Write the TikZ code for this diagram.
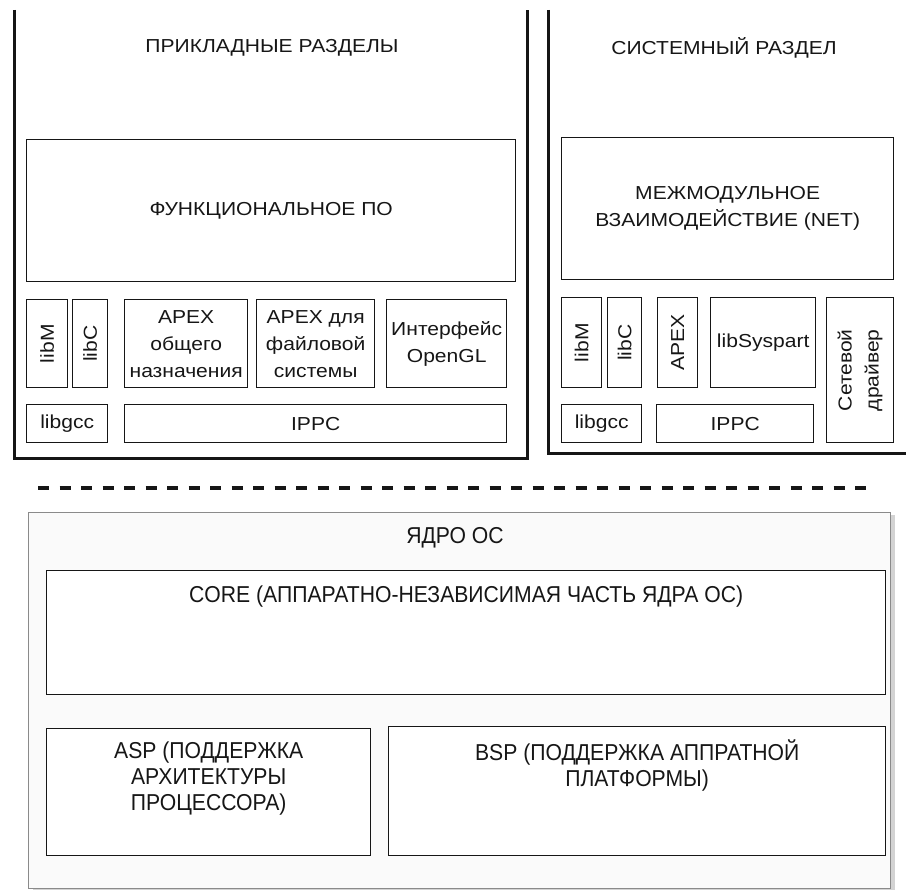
\documentclass[tikz,border=0pt]{standalone}
\usepackage{fontspec}
\setmainfont{Liberation Sans}
\newfontfamily\partfont[FakeStretch=1.12]{Liberation Sans}
\newfontfamily\kernfont[FakeStretch=0.92]{Liberation Sans}
\usetikzlibrary{positioning,shadows}
\definecolor{ink}{HTML}{161616}
\definecolor{kernbg}{HTML}{FAFAFA}
\definecolor{kernrim}{HTML}{8A8A8A}
\tikzset{
  frame/.style = {draw=ink, line width=3pt},
  blk/.style = {draw=ink, line width=1.4pt, anchor=north west, inner sep=0pt,
                align=center, text=ink, font=\partfont\fontsize{18.8}{27}\selectfont},
  vtext/.style = {rotate=90, align=center, inner sep=0pt, text=ink,
                  font=\partfont\fontsize{18.8}{27}\selectfont},
  title/.style = {text=ink, inner sep=0pt, font=\partfont\fontsize{18.8}{27}\selectfont},
  kblk/.style = {draw=ink, fill=white, line width=1.4pt, anchor=north west, inner sep=0pt},
  ktext/.style = {align=center, text=ink, inner sep=0pt,
                  font=\kernfont\fontsize{23}{26}\selectfont},
  sepline/.style = {draw=ink, line width=4pt, dash pattern=on 11pt off 10.5pt}
}
\begin{document}
\begin{tikzpicture}[x=1pt, y=-1pt]
  \useasboundingbox (0,0) rectangle (906,890);

  % прикладные разделы
  \draw [frame] (14,10) -- (14,459) -- (527,459) -- (527,10);
  \node [title] (ltitle) at (272,48) {ПРИКЛАДНЫЕ РАЗДЕЛЫ};
  \node [blk, minimum width=489pt, minimum height=142pt] (func) at (26,139) {ФУНКЦИОНАЛЬНОЕ ПО};
  \node [blk, minimum width=41pt, minimum height=88pt] (llibm) at (26,299) {};
  \node [blk, minimum width=35pt, minimum height=88pt] (llibc) at (72,299) {};
  \node [blk, minimum width=123pt, minimum height=88pt] (lapexg) at (124,299) {APEX\\общего\\назначения};
  \node [blk, minimum width=118pt, minimum height=88pt] (lapexf) at (256,299) {APEX для\\файловой\\системы};
  \node [blk, minimum width=120pt, minimum height=88pt] (lgl) at (386,299) {Интерфейс\\OpenGL};
  \node [blk, minimum width=81pt, minimum height=38pt] (llibgcc) at (26,404) {libgcc};
  \node [blk, minimum width=382pt, minimum height=38pt] (lippc) at (124,404) {IPPC};
  \node [vtext] (llibmt) at (llibm.center) {libM};
  \node [vtext] (llibct) at (llibc.center) {libC};

  % системный раздел
  \draw [frame] (548,10) -- (548,454) -- (906,454);
  \node [title] (rtitle) at (724,48) {СИСТЕМНЫЙ РАЗДЕЛ};
  \node [blk, minimum width=332pt, minimum height=142pt] (net) at (561,137) {МЕЖМОДУЛЬНОЕ\\ВЗАИМОДЕЙСТВИЕ (NET)};
  \node [blk, minimum width=40pt, minimum height=90pt] (rlibm) at (561,297) {};
  \node [blk, minimum width=34pt, minimum height=90pt] (rlibc) at (607,297) {};
  \node [blk, minimum width=40pt, minimum height=90pt] (rapex) at (657,297) {};
  \node [blk, minimum width=105pt, minimum height=90pt] (rsys) at (710,297) {libSyspart};
  \node [blk, minimum width=67pt, minimum height=145pt] (rdrv) at (826,297) {};
  \node [blk, minimum width=80pt, minimum height=38pt] (rlibgcc) at (561,404) {libgcc};
  \node [blk, minimum width=157pt, minimum height=38pt] (rippc) at (656,404) {IPPC};
  \node [vtext] (rlibmt) at (rlibm.center) {libM};
  \node [vtext] (rlibct) at (rlibc.center) {libC};
  \node [vtext] (rapext) at (rapex.center) {APEX};
  \node [vtext] (rdrvt) at (rdrv.center) {Сетевой\\драйвер};

  % граница
  \coordinate (sepl) at (38,488);
  \coordinate (sepr) at (870,488);
  \draw [sepline] (sepl) -- (sepr);

  % ядро
  \node [draw=kernrim, fill=kernbg, line width=1pt, anchor=north west,
         minimum width=862pt, minimum height=376pt,
         drop shadow={shadow xshift=4pt, shadow yshift=-3pt, opacity=0.35}] (kernel) at (28,512) {};
  \node [ktext] (ktitle) at (455,538) {ЯДРО ОС};
  \node [kblk, minimum width=839pt, minimum height=124pt] (core) at (46,570) {};
  \node [kblk, minimum width=324pt, minimum height=127pt] (asp) at (46,728) {};
  \node [kblk, minimum width=497pt, minimum height=129pt] (bsp) at (388,726) {};
  \node [ktext, below=16pt of core.north] (coret) {CORE (АППАРАТНО-НЕЗАВИСИМАЯ ЧАСТЬ ЯДРА ОС)};
  \node [ktext, below=14pt of asp.north] (aspt) {ASP (ПОДДЕРЖКА\\АРХИТЕКТУРЫ\\ПРОЦЕССОРА)};
  \node [ktext, below=14pt of bsp.north] (bspt) {BSP (ПОДДЕРЖКА АППРАТНОЙ\\ПЛАТФОРМЫ)};
\end{tikzpicture}
\end{document}
